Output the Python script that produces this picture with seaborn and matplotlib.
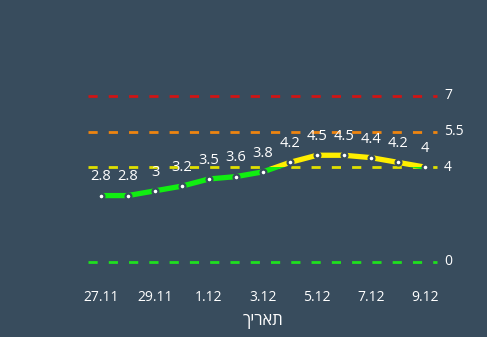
import matplotlib
matplotlib.use("Agg")
import matplotlib.pyplot as plt
import seaborn as sns
import pandas as pd
from matplotlib.patches import Rectangle

dates = ["27.11", "28.11", "29.11", "30.11", "1.12", "2.12", "3.12",
         "4.12", "5.12", "6.12", "7.12", "8.12", "9.12"]
values = [2.8, 2.8, 3, 3.2, 3.5, 3.6, 3.8, 4.2, 4.5, 4.5, 4.4, 4.2, 4]
thresholds = [0, 4, 5.5, 7]
threshold_labels = ["0", "4", "5.5", "7"]
threshold_colors = ["#1fe01f", "#e0e000", "#ee8510", "#d01515"]
x_title = "תאריך"

BG = "#384c5d"
sns.set_theme(style="dark")
plt.rcParams['font.family'] = ['Open Sans', 'DejaVu Sans']

df = pd.DataFrame({"i": range(len(dates)), "v": values})

fig = plt.figure(figsize=(4.87, 3.37), dpi=100, facecolor=BG)
ax = fig.add_axes([87.5 / 487, 0.2015, 351 / 487, 0.5489])
ax.set_facecolor(BG)

# threshold lines
for t, lab, c in zip(thresholds, threshold_labels, threshold_colors):
    ax.plot([-0.48, 12.44], [t, t], color=c, lw=2.0,
            linestyle=(0, (3.3, 4.0)), zorder=1)
    ax.text(12.7, t, lab, color="white", fontsize=10, va="center", ha="left")

# main series: green below 4, yellow above
for color, lo, hi in [("#11ee11", -10, 4), ("#ffee00", 4, 20)]:
    sns.lineplot(data=df, x="i", y="v", ax=ax, color=color, lw=3.8,
                 zorder=3, legend=False)
    line = ax.lines[-1]
    rect = Rectangle((-10, lo), 40, hi - lo, transform=ax.transData)
    line.set_clip_path(rect)

ax.plot(df["i"], df["v"], linestyle="none", marker="o", markersize=4.2,
        markerfacecolor="white", markeredgecolor=BG, markeredgewidth=1.6,
        zorder=4)

for i, v in enumerate(values):
    ax.annotate(f"{v:g}", (i, v), xytext=(0, 8), textcoords="offset points",
                ha="center", va="bottom", color="white", fontsize=10.5)

ax.set_xlim(-0.5, 12.5)
ax.set_ylim(-0.3, 7.5)
ax.set_xticks(range(0, len(dates), 2))
ax.set_xticklabels(dates[::2], color="white", fontsize=10)
ax.set_yticks([])
ax.tick_params(axis="x", length=0, pad=15)
ax.set_xlabel(x_title[::-1], color="white", fontsize=12, labelpad=6)
ax.set_ylabel("")
ax.grid(False)
for s in ax.spines.values():
    s.set_visible(False)

fig.savefig("out.png", dpi=100, facecolor=BG)
